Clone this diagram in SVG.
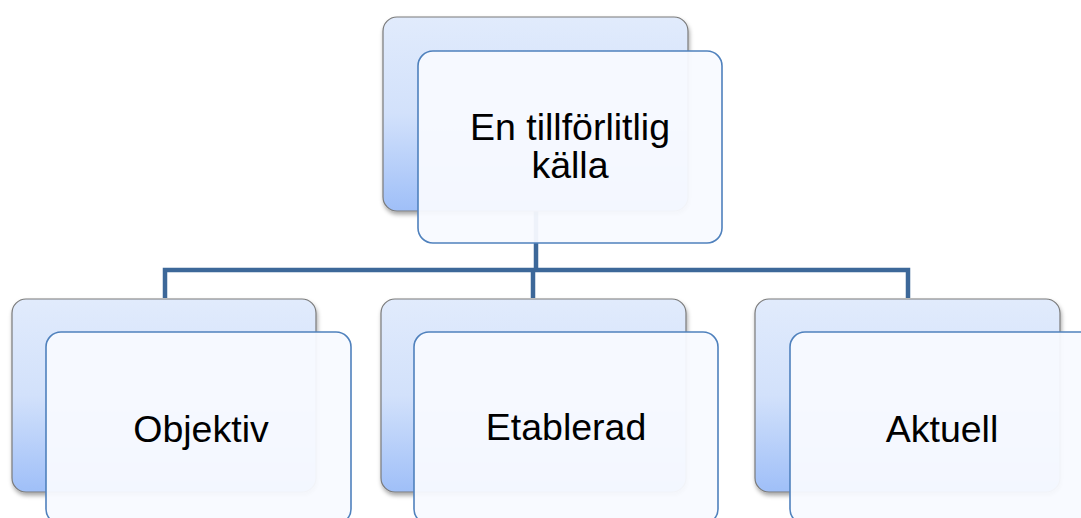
<svg xmlns="http://www.w3.org/2000/svg" width="1081" height="518" viewBox="0 0 1081 518">
<style>
.back{fill:url(#g);stroke:#7a7a7a;stroke-width:1.2;filter:url(#sh)}
.front{fill:#f8faff;fill-opacity:0.95;stroke:#4f81bd;stroke-width:1.6}
.lbl{font-family:"Liberation Sans",Arial,sans-serif;font-size:37.5px;fill:#000;text-anchor:middle}
.con{fill:none;stroke:#3d6899;stroke-width:4.5}
</style>
<defs>
<linearGradient id="g" x1="0" y1="0" x2="0" y2="1">
<stop offset="0" stop-color="#e1ebfc"/>
<stop offset="0.5" stop-color="#d2e1fb"/>
<stop offset="1" stop-color="#9fbff8"/>
</linearGradient>
<filter id="sh" x="-10%" y="-10%" width="125%" height="130%">
<feDropShadow dx="1" dy="3" stdDeviation="2" flood-color="#000" flood-opacity="0.35"/>
</filter>
</defs>
<g id="connectors">
<path class="con" d="M536 211V270M165 298V270H908V298M533 270V298"/>
</g>
<g id="node-top">
<rect class="back" x="383" y="17" width="305" height="194" rx="14"/>
<rect class="front" x="418" y="51" width="304" height="192" rx="15"/>
<text class="lbl" x="570" y="140">En tillförlitlig</text>
<text class="lbl" x="570" y="178">källa</text>
</g>
<g id="node-objektiv">
<rect class="back" x="12" y="299" width="304" height="193" rx="14"/>
<rect class="front" x="46" y="332" width="305" height="192" rx="15"/>
<text class="lbl" x="201" y="442">Objektiv</text>
</g>
<g id="node-etablerad">
<rect class="back" x="381" y="299" width="305" height="193" rx="14"/>
<rect class="front" x="414" y="332" width="304" height="192" rx="15"/>
<text class="lbl" x="566" y="440">Etablerad</text>
</g>
<g id="node-aktuell">
<rect class="back" x="755" y="299" width="305" height="193" rx="14"/>
<rect class="front" x="790" y="332" width="305" height="192" rx="15"/>
<text class="lbl" x="942" y="442">Aktuell</text>
</g>
</svg>
